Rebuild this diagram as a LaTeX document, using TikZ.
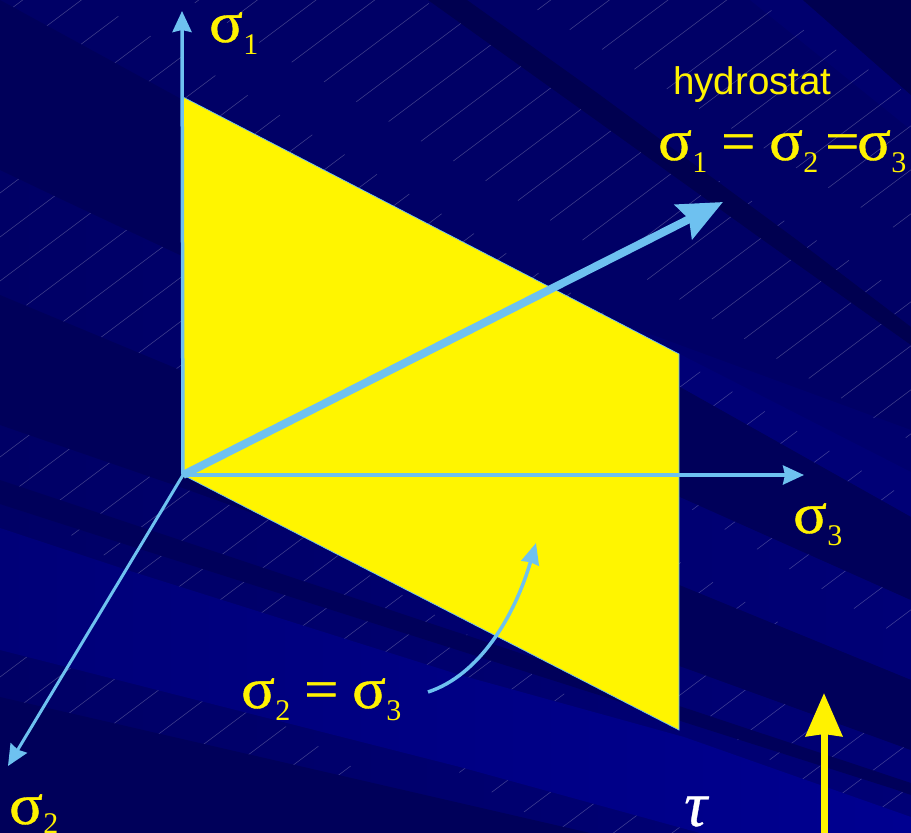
\documentclass[tikz,border=0pt]{standalone}
\usepackage{fontspec}
\setmainfont{Liberation Serif}
\newfontfamily\hfont{Liberation Sans}
\newfontfamily\sgfont[FakeBold=.7,FakeStretch=1.08]{Liberation Serif}
\newfontfamily\taufont[FakeBold=.5]{Liberation Serif Italic}
\usetikzlibrary{arrows.meta}
\definecolor{basec}{HTML}{000066}
\definecolor{darkc}{HTML}{00005A}
\definecolor{darkerc}{HTML}{000050}
\definecolor{midc}{HTML}{000076}
\definecolor{softc}{HTML}{00006E}
\definecolor{brightc}{HTML}{000090}
\definecolor{brightl}{HTML}{000078}
\definecolor{axisc}{HTML}{6EC1F0}
\definecolor{planec}{HTML}{FFF500}
\newcommand{\sg}[2][-12pt]{{\sgfont\fontsize{58}{58}\selectfont σ}\kern.5pt\raisebox{#1}{\fontsize{30}{30}\selectfont #2}}
\newcommand{\eqs}{{\sgfont\fontsize{56}{56}\selectfont =}}
\tikzset{
  x=1pt,y=-1pt,
  hatchline/.style={white,opacity=.27,line width=.5pt},
  lab/.style={anchor=base west,inner sep=0pt,text=yellow,font=\fontsize{51}{51}\selectfont},
  axis/.style={axisc,line width=3.5pt,-{Stealth[length=21pt,width=19pt,inset=2pt]}},
}
\begin{document}
\begin{tikzpicture}
\useasboundingbox (0,0) rectangle (911,833);
\clip (0,0) rectangle (911,833);
% background
\fill[basec] (0,0) rectangle (911,833);
\shade[left color=basec,right color=midc] (0,170)--(63,200)--(180,255)--(680,497)--(911,600)--(911,680)--(679,585)--(180,370)--(0,295)--cycle;
\shade[left color=basec,right color=midc] (0,425)--(180,487)--(699,673)--(911,750)--(911,833)--(0,833)--cycle;
\fill[softc] (620,323)--(911,430)--(911,517)--(620,353)--cycle;
\fill[midc] (660,344)--(911,472)--(911,517)--(660,376)--cycle;
\fill[softc] (750,0)--(803,0)--(911,95)--(911,130)--cycle;
% hatch
\foreach \j in {-8,...,28}{\foreach \m in {-5,...,5}{
  \pgfmathsetmacro\hC{260+35.2*\j}
  \pgfmathsetmacro\hT{210+14*\j-186*\m}
  \draw[hatchline] ({.6*\hC+.8*\hT},{.8*\hC-.6*\hT}) -- ++(104.8,-78.6);
}}
% bands over the hatch
\fill[darkerc] (803,0)--(911,95)--(911,0)--cycle;
\fill[darkerc] (428,0)--(467,0)--(600,95)--(797,240)--(911,327)--(911,345)--(763,240)--(600,123)--cycle;
\fill[darkc] (0,0)--(183,100)--(680,387)--(911,517)--(911,600)--(680,497)--(180,255)--(63,200)--(0,170)--cycle;
\fill[darkc] (0,295)--(180,370)--(679,585)--(911,680)--(911,750)--(699,673)--(180,487)--(0,425)--cycle;
\fill[darkc] (0,480)--(300,580)--(911,783)--(911,795)--(894,789)--(445,646)--(118,542)--(0,504)--cycle;
\fill[darkc] (0,697)--(590,833)--(0,833)--cycle;
\shade[left color=brightl,right color=brightc] (0,528)--(127,570)--(460,675)--(684,737)--(911,817)--(911,833)--(700,833)--(460,767)--(0,650)--cycle;
% plane
\coordinate (o) at (183,475);
\coordinate (p1) at (183,97);
\coordinate (p2) at (679,354);
\coordinate (p3) at (679,730);
\fill[planec,draw=axisc,line width=.7pt] (p1)--(p2)--(p3)--(o)--cycle;
% axes
\coordinate (s1) at (182,11);
\coordinate (s2) at (8,766);
\coordinate (s3) at (804,475);
\coordinate (hy) at (723,202);
\draw[axis] (o) -- (s1);
\draw[axis] (o) -- (s3);
\draw[axis,line width=3pt] (o) -- (s2);
\draw[axisc,line width=8pt,-{Stealth[length=44pt,width=38pt,inset=6pt]}] (o) -- (hy);
% curved pointer
\coordinate (c0) at (428,692);
\coordinate (c1) at (536,543);
\draw[axisc,line width=3.5pt,-{Stealth[length=21pt,width=18pt,inset=1pt]}] (c0) .. controls (480,675) and (515,615) .. (c1);
% tau arrow
\coordinate (t0) at (824,840);
\coordinate (t1) at (824,693);
\draw[yellow,line width=7pt,-{Stealth[length=43pt,width=36pt,inset=2pt]}] (t0) -- (t1);
% labels
\node[lab] (l1) at (209,42) {\sg{1}};
\node[lab] (l2) at (9,824) {\sg[-9pt]{2}};
\node[lab] (l3) at (793,533) {\sg{3}};
\node[lab,font=\fontsize{38.5}{38.5}\selectfont\hfont] (hl) at (673,94) {hydrostat};
\node[lab] (e1) at (658,160) {\sg{1}};
\node[lab] (e2) at (721,160) {\eqs};
\node[lab] (e3) at (769,160) {\sg{2}};
\node[lab] (e4) at (825,160) {\eqs};
\node[lab] (e5) at (857,160) {\sg{3}};
\node[lab] (f1) at (241,708) {\sg{2}};
\node[lab] (f2) at (304,708) {\eqs};
\node[lab] (f3) at (352,708) {\sg{3}};
\node[lab,text=white,font=\fontsize{64}{64}\selectfont\taufont] (tau) at (684,826) {τ};
\end{tikzpicture}
\end{document}
